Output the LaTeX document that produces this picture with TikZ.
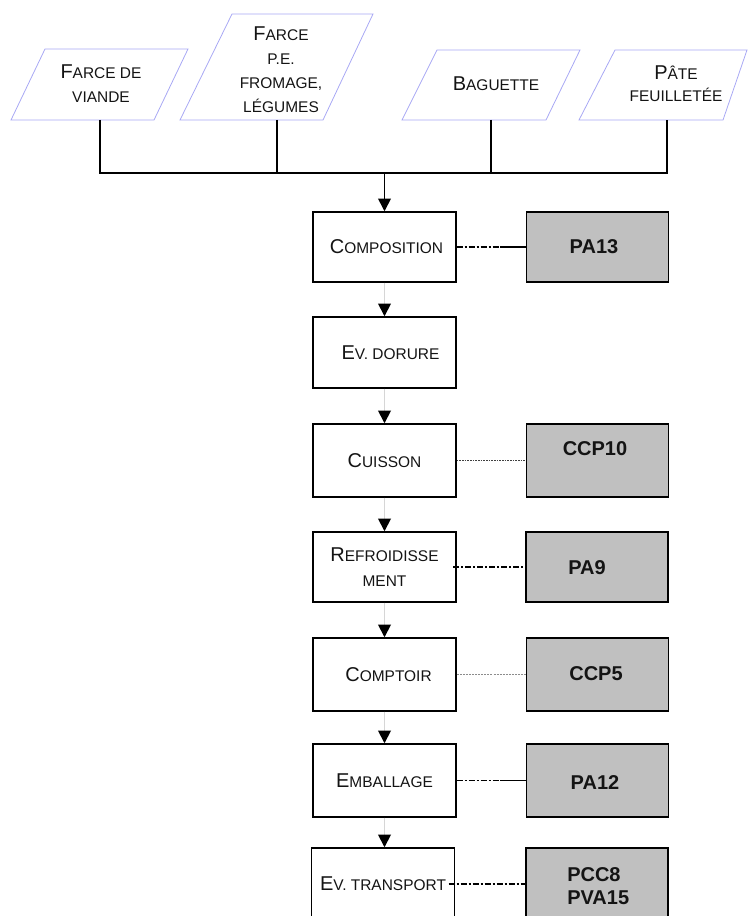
\documentclass[tikz,border=0pt]{standalone}
\usepackage{fontspec}
\setmainfont{Liberation Sans}
\usetikzlibrary{arrows.meta,calc}

\definecolor{paraedge}{HTML}{A8A8F4}
\definecolor{hazfill}{HTML}{C0C0C0}
\definecolor{flowgrey}{HTML}{D6D6D6}
\definecolor{inkgrey}{HTML}{141414}

% hand-made small capitals: large initial, smaller capitals after it
\newcommand\CapL[1]{{\fontsize{15pt}{18pt}\selectfont #1}}
\newcommand\CapS[1]{{\fontsize{11.6pt}{18pt}\selectfont #1}}

\tikzset{
  stepbox/.style={draw=black, line width=1.1pt, fill=white,
    minimum width={143*0.75pt}, inner sep=0pt, align=center, text=inkgrey,
    font=\fontsize{11.6pt}{19pt}\selectfont},
  hazbox/.style={draw=black, line width=1.1pt, fill=hazfill,
    minimum width={142*0.75pt}, inner sep=0pt},
  hazlabel/.style={inner sep=0pt, align=left, text=inkgrey,
    font=\bfseries\fontsize{15pt}{17pt}\selectfont},
  ingr/.style={draw=paraedge, line width=0.6pt},
  ingrtext/.style={inner sep=0pt, align=center, text=inkgrey,
    font=\fontsize{11.6pt}{18pt}\selectfont},
  feed/.style={line width=1.2pt},
  tipblack/.style={-{Triangle[width=9.5pt,length=9.5pt,color=black,fill=black]}},
  flow/.style={draw=flowgrey, line width=1.3pt, tipblack},
  linkdashdot/.style={line width=0.8pt, dash pattern=on 4.5pt off 1.5pt on 1.5pt off 1.5pt},
  linksolid/.style={line width=0.9pt},
  linkdotdark/.style={line width=0.6pt, draw=black!75, dash pattern=on 1.2pt off 0.8pt},
  linkdotgrey/.style={line width=1.1pt, draw=black!45, dash pattern=on 1.5pt off 0.8pt},
}

\begin{document}
\begin{tikzpicture}[x=0.75pt, y=-0.75pt]
  \useasboundingbox (0,0) rectangle (748,916);
  \clip (0,0) rectangle (748,916);

  % ingredients (parallelograms)
  \draw[ingr] (45,49) -- (188,49) -- (154,120) -- (11,120) -- cycle;
  \draw[ingr] (232,14) -- (373,14) -- (323,120) -- (180,120) -- cycle;
  \draw[ingr] (437,50) -- (580,50) -- (546,120) -- (402,120) -- cycle;
  \draw[ingr] (615,50) -- (747,50) -- (723,120) -- (579,120) -- cycle;

  \node[ingrtext] (farceviande) at (101,84) {\CapL{F}\CapS{ARCE DE}\\\CapS{VIANDE}};
  \node[ingrtext] (farcepe) at (281,70) {\CapL{F}\CapS{ARCE}\\\CapS{P.E.}\\\CapS{FROMAGE,}\\\CapS{LÉGUMES}};
  \node[ingrtext] (baguette) at (496,84) {\CapL{B}\CapS{AGUETTE}};
  \node[ingrtext, font=\fontsize{11.6pt}{16.5pt}\selectfont] (pate) at (676,84) {\CapL{P}\CapS{ÂTE}\\\CapS{FEUILLETÉE}};

  \coordinate (b1) at (100,120);
  \coordinate (b2) at (277,120);
  \coordinate (b3) at (491,120);
  \coordinate (b4) at (667,120);
  \coordinate (bus1) at (100,173);
  \coordinate (bus4) at (667,173);
  \coordinate (busm) at (384.5,173);

  % process steps
  \node[stepbox, minimum height={70*0.75pt}] (comp)  at (384.5,247)   {\hspace{3pt}\CapL{C}\CapS{OMPOSITION}};
  \node[stepbox, minimum height={71*0.75pt}] (dor)   at (384.5,352.5) {\hspace{9pt}\CapL{E}\CapS{V. DORURE}};
  \node[stepbox, minimum height={73*0.75pt}] (cuis)  at (384.5,460.5) {\CapL{C}\CapS{UISSON}};
  \node[stepbox, minimum height={70*0.75pt}] (refr)  at (384.5,567)   {\CapL{R}\CapS{EFROIDISSE}\\\CapS{MENT}};
  \node[stepbox, minimum height={73*0.75pt}] (compt) at (384.5,674.5) {\hspace{6pt}\CapL{C}\CapS{OMPTOIR}};
  \node[stepbox, minimum height={73*0.75pt}] (emb)   at (384.5,780.5) {\CapL{E}\CapS{MBALLAGE}};
  \node[stepbox, minimum height={72*0.75pt}] (trans) at (383,884)     {\CapL{E}\CapS{V. TRANSPORT}};

  % hazard references
  \node[hazbox, minimum height={70*0.75pt}] (pa13)  at (597.5,247)   {};
  \node[hazbox, minimum height={73*0.75pt}] (ccp10) at (597.5,460.5) {};
  \node[hazbox, minimum height={70*0.75pt}] (pa9)   at (597,567)     {};
  \node[hazbox, minimum height={73*0.75pt}] (ccp5)  at (597.5,674.5) {};
  \node[hazbox, minimum height={73*0.75pt}] (pa12)  at (597.5,780.5) {};
  \node[hazbox, minimum height={72*0.75pt}] (pcc8)  at (597,884)     {};

  \node[hazlabel] (pa13t)  at (594,247) {PA13};
  \node[hazlabel] (ccp10t) at (595,449) {CCP10};
  \node[hazlabel] (pa9t)   at (587,568) {PA9};
  \node[hazlabel] (ccp5t)  at (596,674) {CCP5};
  \node[hazlabel] (pa12t)  at (595,783) {PA12};
  \node[hazlabel, anchor=west] (pcc8t) at (567,886) {PCC8\\PVA15};

  % ingredients merge into the line
  \draw[feed] (b1) -- (bus1) -- (bus4) -- (b4);
  \draw[feed] (b2) -- (b2 |- bus1);
  \draw[feed] (b3) -- (b3 |- bus1);
  \draw[feed, tipblack] (busm) -- (comp.north);

  % flow between steps
  \draw[flow] (comp.south) -- (dor.north);
  \draw[flow] (dor.south) -- (cuis.north);
  \draw[flow] (cuis.south) -- (refr.north);
  \draw[flow] (refr.south) -- (compt.north);
  \draw[flow] (compt.south) -- (emb.north);
  \draw[flow] (emb.south) -- (emb.south |- trans.north);

  % links to hazard references
  \coordinate (k1) at ($(comp.east)!0.63!(pa13.west)$);
  \draw[linkdashdot] (comp.east) -- (k1);
  \draw[linksolid] (k1) -- (pa13.west);
  \draw[linkdotdark] (cuis.east) -- (ccp10.west);
  \draw[linkdashdot] ([xshift=-2.5pt]refr.east) -- (pa9.west);
  \draw[linkdotgrey] (compt.east) -- (ccp5.west);
  \coordinate (k2) at ($(emb.east)!0.63!(pa12.west)$);
  \draw[linkdashdot] (emb.east) -- (k2);
  \draw[linksolid] (k2) -- (pa12.west);
  \draw[linkdashdot] ([xshift=-5pt]trans.east |- pcc8.west) -- (pcc8.west);
\end{tikzpicture}
\end{document}
